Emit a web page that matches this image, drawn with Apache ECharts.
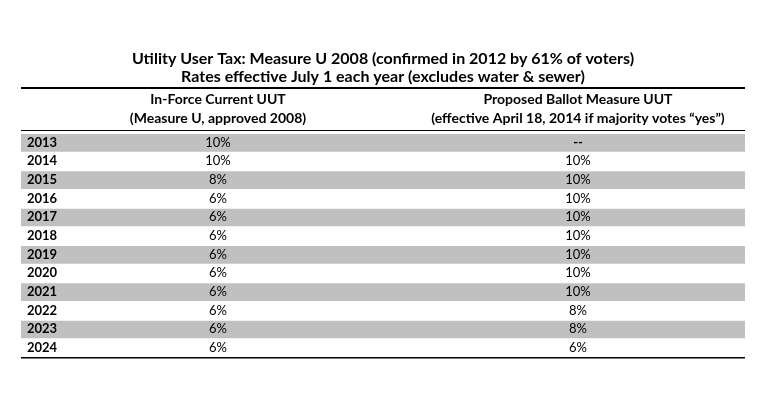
<!DOCTYPE html>
<html><head><meta charset="utf-8">
<script src="https://cdn.jsdelivr.net/npm/echarts@6/dist/echarts.min.js"></script>
<style>html,body{margin:0;background:#fff}#c{width:766px;height:405px}</style>
</head><body><div id="c"></div>
<script>
var years = ['2013','2014','2015','2016','2017','2018','2019','2020','2021','2022','2023','2024'];
var currentRates = ['10%','10%','8%','6%','6%','6%','6%','6%','6%','6%','6%','6%'];
var proposedRates = ['--','10%','10%','10%','10%','10%','10%','10%','10%','8%','8%','6%'];
var titleLines = ['Utility User Tax: Measure U 2008 (confirmed in 2012 by 61% of voters)',
  'Rates effective July 1 each year (excludes water & sewer)'];
var colHeads = ['In-Force Current UUT\n(Measure U, approved 2008)',
  'Proposed Ballot Measure UUT\n(effective April 18, 2014 if majority votes \u201cyes\u201d)'];

var FONT = 'Lato';
var chart = echarts.init(document.getElementById('c'));
var rows = years.map(function (y, i) { return [i, y, currentRates[i], proposedRates[i]]; });

function txt(o, size, bold) {
  o.fontFamily = FONT; o.fontSize = size; o.fontWeight = bold ? 'bold' : 'normal'; o.fill = '#000';
  return o;
}

chart.setOption({
  animation: false,
  grid: { left: 21, right: 21, top: 133, bottom: 48 },
  xAxis: { type: 'value', min: 0, max: 724, show: false },
  yAxis: { type: 'category', data: years, inverse: true, show: false },
  graphic: [
    { type: 'text', x: 383, y: 51, style: txt({ text: titleLines[0], align: 'center' }, 16, true) },
    { type: 'text', x: 383, y: 69, style: txt({ text: titleLines[1], align: 'center' }, 16, true) },
    { type: 'rect', shape: { x: 21, y: 87, width: 724, height: 2 }, style: { fill: '#000' } },
    { type: 'text', x: 218, y: 90, style: txt({ text: colHeads[0], lineHeight: 19, align: 'center' }, 14, true) },
    { type: 'text', x: 578, y: 90, style: txt({ text: colHeads[1], lineHeight: 19, align: 'center' }, 14, true) },
    { type: 'rect', shape: { x: 21, y: 130, width: 724, height: 1 }, style: { fill: '#000' } },
    { type: 'rect', shape: { x: 21, y: 357, width: 724, height: 1.5 }, style: { fill: '#000' } }
  ],
  series: [{
    type: 'custom',
    data: rows,
    encode: { x: -1, y: 0 },
    renderItem: function (params, api) {
      var i = api.value(0);
      var top = api.coord([0, i]);
      var band = api.size([0, 1])[1];
      var y0 = top[1] - band / 2;
      var w = api.coord([724, i])[0] - top[0];
      var kids = [];
      if (i % 2 === 0) {
        kids.push({ type: 'rect', shape: { x: top[0], y: y0 + 1, width: w, height: band - 1 }, style: { fill: '#c0c0c0' } });
      }
      kids.push({ type: 'text', x: api.coord([6, i])[0], y: top[1], style: txt({ text: rows[i][1], verticalAlign: 'middle' }, 13, true) });
      kids.push({ type: 'text', x: api.coord([197, i])[0], y: top[1], style: txt({ text: rows[i][2], align: 'center', verticalAlign: 'middle' }, 13, false) });
      kids.push({ type: 'text', x: api.coord([557, i])[0], y: top[1], style: txt({ text: rows[i][3], align: 'center', verticalAlign: 'middle' }, 13, rows[i][3] === '--') });
      return { type: 'group', children: kids };
    }
  }]
});
</script></body></html>
